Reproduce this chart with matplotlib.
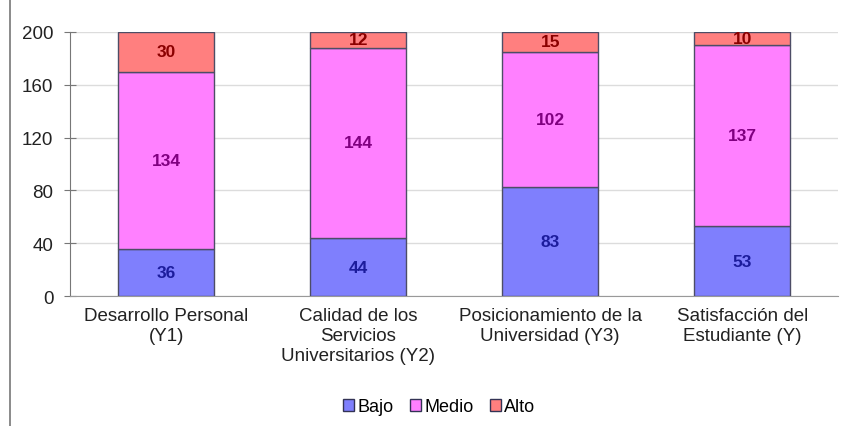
import numpy as np
import matplotlib.pyplot as plt
from matplotlib.lines import Line2D

plt.rcParams['font.family'] = ['Liberation Sans', 'DejaVu Sans']

categories = ['Desarrollo Personal\n(Y1)', 'Calidad de los\nServicios\nUniversitarios (Y2)',
              'Posicionamiento de la\nUniversidad (Y3)', 'Satisfacción del\nEstudiante (Y)']
bajo = [36, 44, 83, 53]
medio = [134, 144, 102, 137]
alto = [30, 12, 15, 10]

series = [('Bajo', bajo, '#7f7ffd', '#1c1c9c'),
          ('Medio', medio, '#ff80ff', '#800080'),
          ('Alto', alto, '#ff7f7f', '#8b0000')]

fig = plt.figure(figsize=(8.45, 4.27), dpi=100)
ax = fig.add_axes([0.083, 0.304, 0.909, 0.619])

x = np.arange(len(categories))
bottom = np.zeros(len(categories))
for name, vals, col, tcol in series:
    vals = np.array(vals)
    ax.bar(x, vals, 0.5, bottom=bottom, color=col, edgecolor='#4d4d66',
           linewidth=1, label=name, zorder=3)
    for xi, b, v in zip(x, bottom, vals):
        ax.text(xi, b + v / 2, str(v), ha='center', va='center', fontsize=12.5,
                fontweight='bold', color=tcol, zorder=4)
    bottom += vals

ax.set_xlim(-0.5, 3.5)
ax.set_ylim(0, 200)
ax.set_yticks(range(0, 201, 40))
ax.yaxis.grid(True, color='#dcdcdc', linewidth=1, zorder=0)
ax.set_xticks(x)
ax.set_xticklabels(categories, fontsize=13.5, color='#222222', linespacing=1.2)
ax.tick_params(axis='x', length=0, pad=8)
ax.tick_params(axis='y', direction='inout', length=8, color='#777777',
               labelsize=13.5, labelcolor='#222222', pad=8)
for s in ['top', 'right']:
    ax.spines[s].set_visible(False)
ax.spines['left'].set_color('#777777')
ax.spines['bottom'].set_color('#999999')

leg = fig.legend(loc='center', bbox_to_anchor=(0.52, 0.045), ncol=3, frameon=False,
                 fontsize=13, handlelength=0.6, handleheight=0.6,
                 handletextpad=0.2, columnspacing=0.9)
for h in leg.legend_handles:
    h.set_edgecolor('#333355')

fig.add_artist(Line2D([10 / 845, 10 / 845], [0, 1], color='#777777', linewidth=1.2))

fig.savefig('out.png', dpi=100)
